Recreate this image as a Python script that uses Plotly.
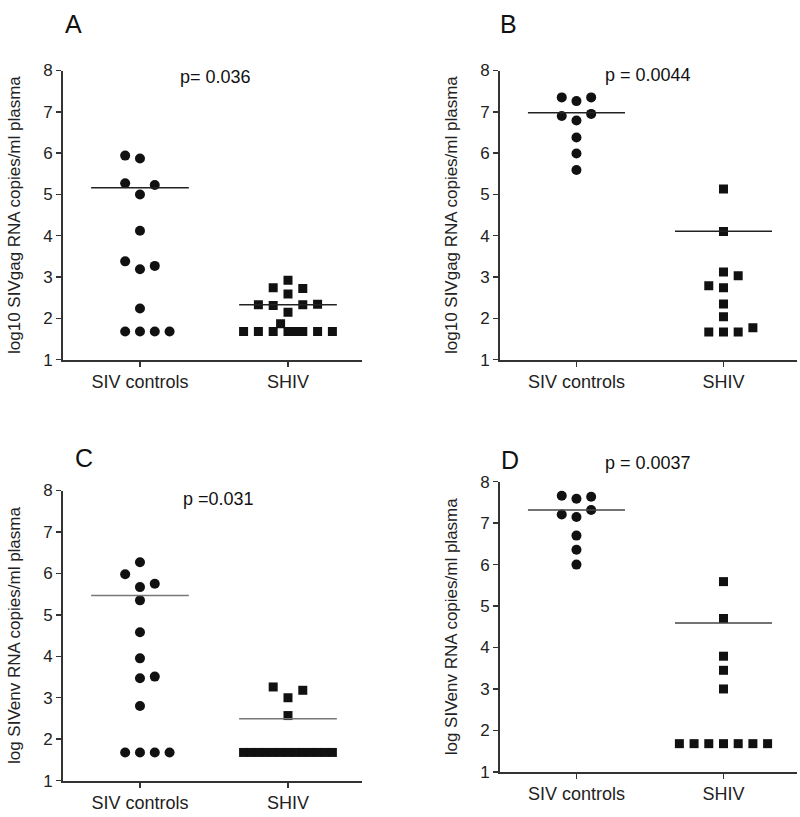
import plotly.graph_objects as go

categories = ["SIV controls", "SHIV"]
tick_vals_y = [1, 2, 3, 4, 5, 6, 7, 8]

# Panel A: log10 SIVgag RNA
A_siv = [5.94, 5.87, 5.27, 5.23, 5.00, 4.12, 3.38, 3.19, 3.27, 2.24, 1.68, 1.68, 1.68, 1.68]
A_siv_off = [-0.1, 0, -0.1, 0.1, 0, 0, -0.1, 0, 0.1, 0, -0.1, 0, 0.1, 0.2]
A_shiv = [2.92, 2.74, 2.59, 2.72, 2.33, 2.31, 2.15, 2.33, 2.34, 1.87,
          1.68, 1.68, 1.68, 1.68, 1.68, 1.68, 1.68, 1.68]
A_shiv_off = [0, -0.1, 0, 0.1, -0.2, -0.1, 0, 0.1, 0.2, -0.05,
              -0.3, -0.2, -0.1, 0, 0.05, 0.1, 0.2, 0.3]
A_med = [5.16, 2.33]
A_p = "p= 0.036"

# Panel B: log10 SIVgag RNA
B_siv = [7.35, 7.26, 7.35, 6.90, 6.95, 6.79, 6.38, 5.99, 5.59]
B_siv_off = [-0.1, 0, 0.1, -0.1, 0.1, 0, 0, 0, 0]
B_shiv = [5.13, 4.10, 3.12, 3.03, 2.79, 2.74, 2.35, 2.04, 1.67, 1.67, 1.67, 1.77]
B_shiv_off = [0, 0, 0, 0.1, -0.1, 0, 0, 0, -0.1, 0, 0.1, 0.2]
B_med = [6.98, 4.11]
B_p = "p = 0.0044"

# Panel C: log SIVenv RNA
C_siv = [6.27, 5.98, 5.67, 5.75, 5.35, 4.58, 3.95, 3.47, 3.51, 2.80, 1.68, 1.68, 1.68, 1.68]
C_siv_off = [0, -0.1, 0, 0.1, 0, 0, 0, 0, 0.1, 0, -0.1, 0, 0.1, 0.2]
C_shiv = [3.26, 3.00, 3.18, 2.57] + [1.68] * 13
C_shiv_off = [-0.1, 0, 0.1, 0, -0.3, -0.25, -0.2, -0.15, -0.1, -0.05, 0, 0.05, 0.1, 0.15, 0.2, 0.25, 0.3]
C_med = [5.47, 2.49]
C_p = "p =0.031"

# Panel D: log SIVenv RNA
D_siv = [7.66, 7.59, 7.64, 7.21, 7.15, 7.32, 6.70, 6.36, 6.00]
D_siv_off = [-0.1, 0, 0.1, -0.1, 0, 0.1, 0, 0, 0]
D_shiv = [5.59, 4.70, 3.79, 3.45, 3.00, 1.68, 1.68, 1.68, 1.68, 1.68, 1.68, 1.68]
D_shiv_off = [0, 0, 0, 0, 0, -0.3, -0.2, -0.1, 0, 0.1, 0.2, 0.3]
D_med = [7.32, 4.59]
D_p = "p = 0.0037"

y_titles = ["log10 SIVgag RNA copies/ml plasma", "log10 SIVgag RNA copies/ml plasma",
            "log SIVenv RNA copies/ml plasma", "log SIVenv RNA copies/ml plasma"]
letters = ["A", "B", "C", "D"]

panels = [
    (A_siv, A_siv_off, A_shiv, A_shiv_off, A_med, A_p),
    (B_siv, B_siv_off, B_shiv, B_shiv_off, B_med, B_p),
    (C_siv, C_siv_off, C_shiv, C_shiv_off, C_med, C_p),
    (D_siv, D_siv_off, D_shiv, D_shiv_off, D_med, D_p),
]

W, H = 800, 817
# plot-area pixel boxes (left, right, top, bottom)
boxes = [(63, 362, 63, 359), (500, 797, 63, 359), (63, 362, 493, 790), (500, 797, 484, 781)]
letter_pos = [(73, 15), (508, 15), (84, 460), (510, 462)]
p_pos = [(215, 70), (648, 68), (218, 502), (648, 465)]
med_colors = ["#222222", "#222222", "#777777", "#444444"]

fig = go.Figure()
font = "Liberation Sans, Arial, sans-serif"
ink = "#111111"

for i, (siv, siv_off, shiv, shiv_off, med, ptxt) in enumerate(panels):
    n = i + 1
    xa = "x" if n == 1 else f"x{n}"
    ya = "y" if n == 1 else f"y{n}"
    fig.add_trace(go.Scatter(
        x=[0 + o for o in siv_off], y=siv, mode="markers", xaxis=xa, yaxis=ya,
        marker=dict(symbol="circle", size=10, color=ink), showlegend=False))
    fig.add_trace(go.Scatter(
        x=[1 + o for o in shiv_off], y=shiv, mode="markers", xaxis=xa, yaxis=ya,
        marker=dict(symbol="square", size=9, color=ink), showlegend=False))
    for c, m in enumerate(med):
        fig.add_trace(go.Scatter(
            x=[c - 0.33, c + 0.33], y=[m, m], mode="lines", xaxis=xa, yaxis=ya,
            line=dict(color=med_colors[i], width=1.5), showlegend=False))

    l, r, t, b = boxes[i]
    xkey = "xaxis" if n == 1 else f"xaxis{n}"
    ykey = "yaxis" if n == 1 else f"yaxis{n}"
    fig.layout[xkey] = dict(
        domain=[l / W, r / W], range=[-0.52, 1.5], anchor=ya,
        tickvals=[0, 1], ticktext=categories, ticks="outside", ticklen=5,
        tickwidth=1.5, tickcolor="#333", showline=True, linecolor="#333", linewidth=2,
        showgrid=False, zeroline=False, tickfont=dict(family=font, size=18, color="#222"),
        fixedrange=True)
    fig.layout[ykey] = dict(
        domain=[1 - b / H, 1 - t / H], range=[1, 8], anchor=xa,
        tickvals=tick_vals_y, ticks="outside", ticklen=5, tickwidth=1.5, tickcolor="#333",
        showline=True, linecolor="#333", linewidth=2, showgrid=False, zeroline=False,
        tickfont=dict(family=font, size=17, color="#222"),
        title=dict(text=y_titles[i], font=dict(family=font, size=17, color="#222"), standoff=18),
        fixedrange=True)
    lx, ly = letter_pos[i]
    fig.add_annotation(x=lx / W, y=1 - ly / H, xref="paper", yref="paper", text=letters[i],
                       showarrow=False, font=dict(family=font, size=25, color="#111"),
                       xanchor="center", yanchor="middle")
    px, py = p_pos[i]
    fig.add_annotation(x=px / W, y=1 - py / H, xref="paper", yref="paper", text=ptxt,
                       showarrow=False, font=dict(family=font, size=18, color="#111"),
                       xanchor="center", yanchor="middle")

fig.update_layout(width=W, height=H, margin=dict(l=0, r=0, t=0, b=0),
                  paper_bgcolor="white", plot_bgcolor="white", hovermode=False)
fig.write_html("out.html", config={"displayModeBar": False, "staticPlot": True},
               post_script="document.body.style.margin='0';document.body.style.overflow='hidden';")
